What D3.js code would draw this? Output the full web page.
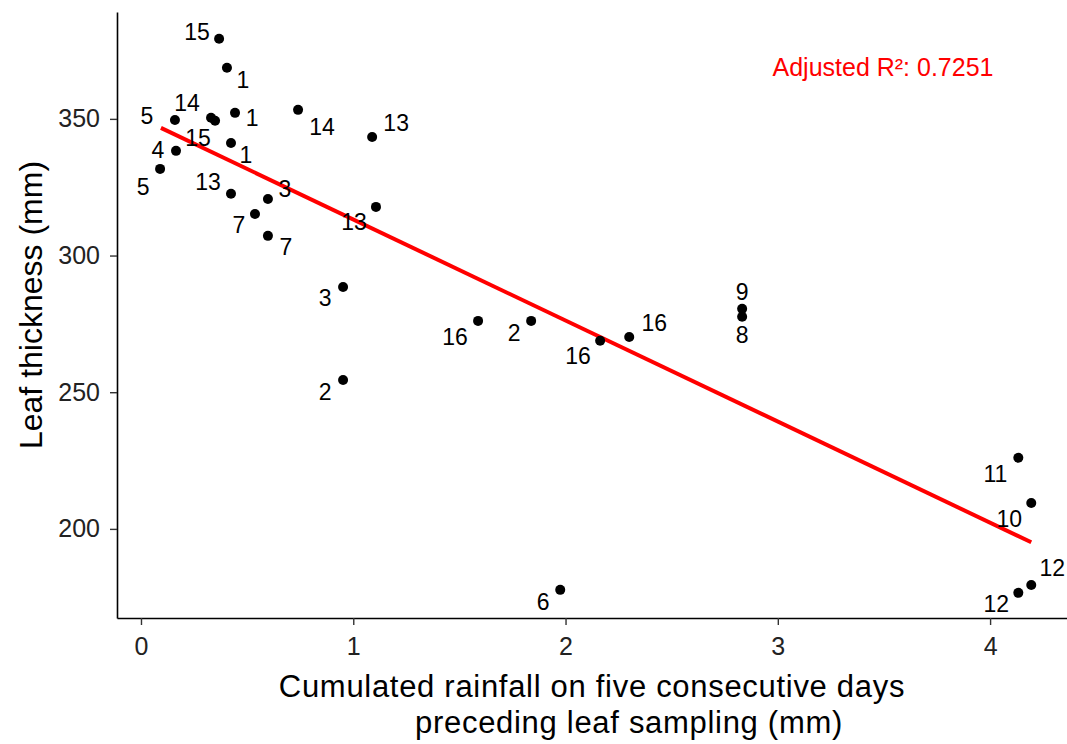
<!DOCTYPE html>
<html>
<head>
<meta charset="utf-8">
<script src="https://cdn.jsdelivr.net/npm/d3@7"></script>
<style>
  body { margin: 0; background: #fff; }
  text { font-family: "Liberation Sans", Arial, sans-serif; }
</style>
</head>
<body>
<svg id="chart" width="1067" height="744"></svg>
<script>
// rainfall (mm) and leaf thickness (mm), one entry per sample
const rainfall = [0.368, 0.405, 0.160, 0.330, 0.349, 0.443, 0.424, 0.165, 0.090, 0.424,
    0.598, 0.537, 0.598, 0.740, 1.089, 1.107, 0.952, 0.952, 1.588, 1.838,
    2.163, 2.300, 2.832, 2.832, 4.133, 4.194, 4.194, 4.133, 1.975]
const thickness = [379.3, 368.7, 349.6, 350.4, 349.3, 352.2, 341.2, 338.3, 331.7, 322.6,
    320.7, 315.2, 307.2, 353.3, 343.4, 317.8, 288.5, 254.5, 276.1, 276.1,
    268.8, 270.2, 280.5, 277.6, 226.0, 209.5, 179.5, 176.6, 177.7]
const ids = ["15", "1", "5", "14", "15", "1", "1", "4", "5", "13",
    "3", "7", "7", "14", "13", "13", "3", "2", "16", "2",
    "16", "16", "9", "8", "11", "10", "12", "12", "6"]

// fitted line ends
const fitX = [0.094, 4.194]
const fitY = [346.7, 195.1]

const xTicks = [0, 1, 2, 3, 4]
const yTicks = [200, 250, 300, 350]

// label nudges (px), like ggrepel put them
const labelNudge = [[-22, -7], [16, 12], [-28, -4], [-24, -15], [-17, 17], [17, 5], [15, 12], [-18, -1], [-17, 18], [-23, -12],
    [17, -10], [-16, 11], [18, 11], [24, 17], [24, -14], [-22, 15], [-18, 11], [-18, 12], [-23, 16], [-17, 12],
    [-22, 15], [25, -14], [0, -17], [0, 18], [-23, 16], [-22, 16], [21, -17], [-22, 11], [-17, 12]]

const svg = d3.select("#chart")
const plotLeft = 117, plotRight = 1075, plotTop = 12, plotBottom = 618

const x = d3.scaleLinear().domain([-0.113, 4.40]).range([plotLeft, plotRight])
const y = d3.scaleLinear().domain([167.4, 389.1]).range([plotBottom, plotTop])

const points = rainfall.map((r, i) => ({rain: r, thick: thickness[i], id: ids[i], nudge: labelNudge[i]}))

// axes
const xAxis = svg.append("g")
    .attr("transform", `translate(0, ${plotBottom})`)
    .call(d3.axisBottom(x).tickValues(xTicks).tickFormat(d3.format("d")).tickSize(7).tickSizeOuter(0))
const yAxis = svg.append("g")
    .attr("transform", `translate(${plotLeft}, 0)`)
    .call(d3.axisLeft(y).tickValues(yTicks).tickSize(7).tickSizeOuter(0))

svg.selectAll(".domain").attr("stroke", "#000").attr("stroke-width", 1.6)
svg.selectAll(".tick line").attr("stroke", "#333").attr("stroke-width", 1.4)
svg.selectAll(".tick text")
    .style("font-size", "25px")
    .style("fill", "#222")
xAxis.selectAll(".tick text").attr("y", 37).attr("dy", 0)
yAxis.selectAll(".tick text").attr("x", -17)

// regression line
svg.append("line")
    .attr("x1", x(fitX[0])).attr("y1", y(fitY[0]))
    .attr("x2", x(fitX[1])).attr("y2", y(fitY[1]))
    .style("stroke", "#ff0000")
    .style("stroke-width", 4)

// points
svg.append("g").selectAll("circle")
    .data(points)
    .join("circle")
    .attr("cx", d => x(d.rain))
    .attr("cy", d => y(d.thick))
    .attr("r", 5)
    .style("fill", "#000")

// labels
svg.append("g").selectAll("text")
    .data(points)
    .join("text")
    .attr("x", d => x(d.rain) + d.nudge[0])
    .attr("y", d => y(d.thick) + d.nudge[1])
    .attr("text-anchor", "middle")
    .attr("dominant-baseline", "central")
    .text(d => d.id)
    .style("font-size", "23px")
    .style("fill", "#000")

// R2 annotation
svg.append("text")
    .attr("x", 883)
    .attr("y", 67)
    .attr("text-anchor", "middle")
    .attr("dominant-baseline", "central")
    .text("Adjusted R²: 0.7251")
    .style("font-size", "25px")
    .style("fill", "#ff0000")

// axis titles
let xTitle = svg.append("text")
    .attr("text-anchor", "middle")
    .style("font-size", "31px")
    .style("letter-spacing", "0.7px")
    .style("fill", "#000")
xTitle.append("tspan")
    .attr("x", 592)
    .attr("y", 697)
    .text("Cumulated rainfall on five consecutive days")
xTitle.append("tspan")
    .attr("x", 629)
    .attr("y", 733)
    .text("preceding leaf sampling (mm)")

svg.append("text")
    .attr("transform", `translate(42, 305) rotate(-90)`)
    .attr("text-anchor", "middle")
    .text("Leaf thickness (mm)")
    .style("font-size", "32px")
    .style("fill", "#000")
</script>
</body>
</html>
